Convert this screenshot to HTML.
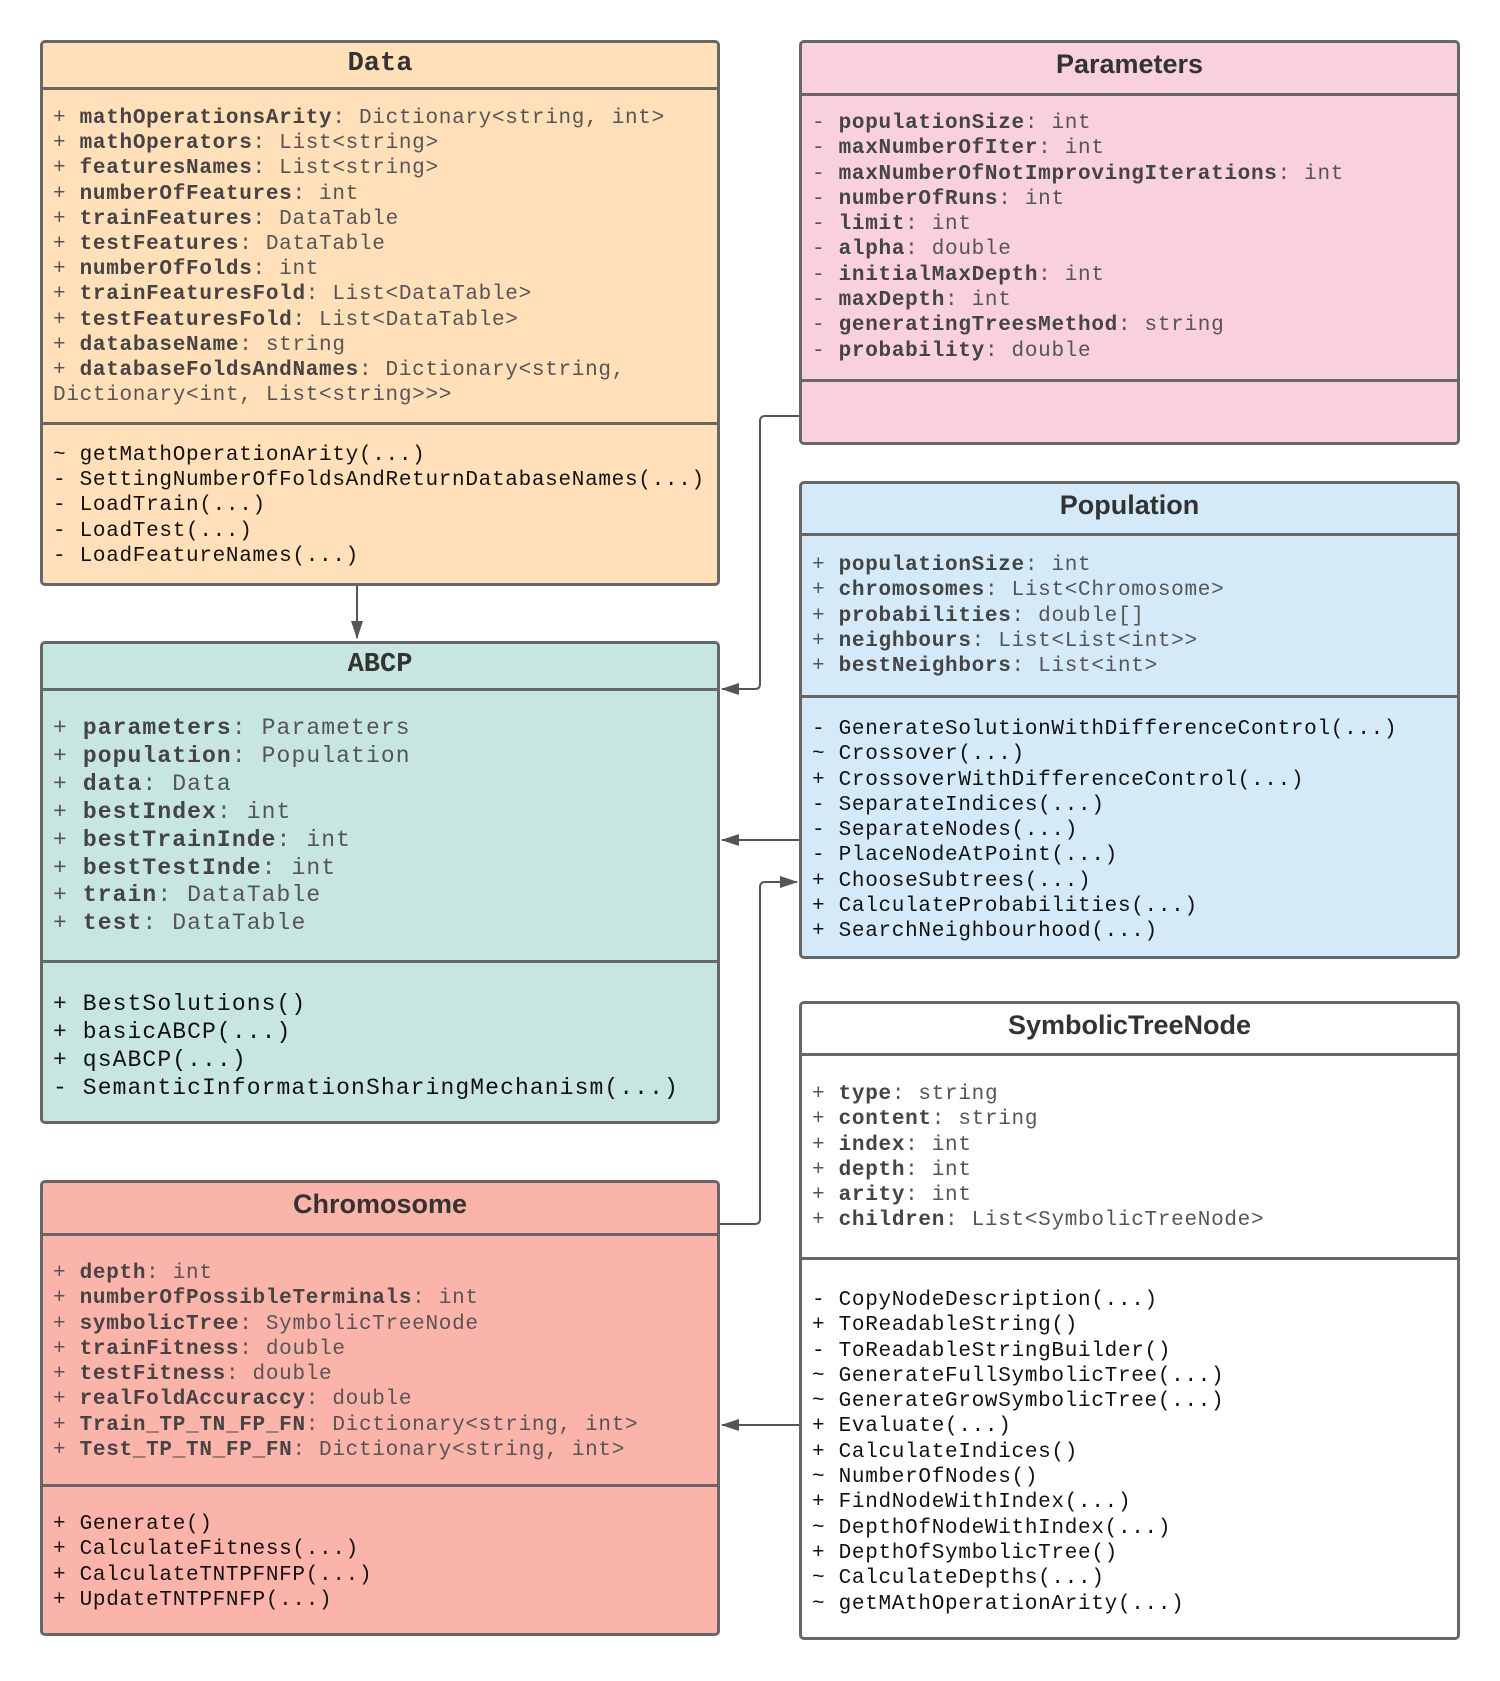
<!DOCTYPE html>
<html><head><meta charset="utf-8"><style>
body{margin:0;width:1500px;height:1681px;background:#fff;position:relative;overflow:hidden;font-family:"Liberation Mono",monospace;color:#111}
.box{position:absolute;border:3px solid #676767;border-radius:5px;box-sizing:border-box}
.hd{position:absolute;left:0;right:0;top:0;border-bottom:3px solid #676767;text-align:center;font:bold 27px "Liberation Sans",sans-serif;color:#333;box-sizing:border-box}
.hd.m{font-family:"Liberation Mono",monospace}
.dv{position:absolute;left:0;right:0;border-top:3px solid #676767}
.tx{position:absolute;left:10px;white-space:pre;font-size:21px;letter-spacing:0.7px}
.a{color:#555}.a b{color:#444}
.big{font-size:23px;letter-spacing:1.1px}
</style></head><body>

<svg width="1500" height="1681" style="position:absolute;left:0;top:0">
<defs><marker id="ar2" markerWidth="18" markerHeight="12" refX="17" refY="6" orient="auto" markerUnits="userSpaceOnUse"><path d="M0,0 L18,6 L0,12 z" fill="#555"/></marker></defs>
<g stroke="#555" stroke-width="2" fill="none">
<path d="M357 585 V638" marker-end="url(#ar2)"/>
<path d="M799 416 H765 q-5 0 -5 5 V684 q0 5 -5 5 H722" marker-end="url(#ar2)"/>
<path d="M799 840 H722" marker-end="url(#ar2)"/>
<path d="M719 1224 H755 q5 0 5 -5 V887 q0 -5 5 -5 H797" marker-end="url(#ar2)"/>
<path d="M799 1425 H722" marker-end="url(#ar2)"/>
</g></svg>

<!-- Data -->
<div class="box" style="left:40px;top:40px;width:680px;height:546px;background:#ffe0b9">
<div class="hd m" style="height:47px;line-height:42px">Data</div>
<div class="dv" style="top:379px"></div>
<div class="tx a" style="top:63px;line-height:25.2px"><span>+ <b>mathOperationsArity</b>: Dictionary&lt;string, int&gt;
+ <b>mathOperators</b>: List&lt;string&gt;
+ <b>featuresNames</b>: List&lt;string&gt;
+ <b>numberOfFeatures</b>: int
+ <b>trainFeatures</b>: DataTable
+ <b>testFeatures</b>: DataTable
+ <b>numberOfFolds</b>: int
+ <b>trainFeaturesFold</b>: List&lt;DataTable&gt;
+ <b>testFeaturesFold</b>: List&lt;DataTable&gt;
+ <b>databaseName</b>: string
+ <b>databaseFoldsAndNames</b>: Dictionary&lt;string,
Dictionary&lt;int, List&lt;string&gt;&gt;&gt;</span></div>
<div class="tx" style="top:400px;line-height:25.2px">~ getMathOperationArity(...)
- SettingNumberOfFoldsAndReturnDatabaseNames(...)
- LoadTrain(...)
- LoadTest(...)
- LoadFeatureNames(...)</div>
</div>

<!-- Parameters -->
<div class="box" style="left:799px;top:40px;width:661px;height:405px;background:#f8d1dc">
<div class="hd" style="height:53px;line-height:42px">Parameters</div>
<div class="dv" style="top:336px"></div>
<div class="tx a" style="top:68px;line-height:25.3px">- <b>populationSize</b>: int
- <b>maxNumberOfIter</b>: int
- <b>maxNumberOfNotImprovingIterations</b>: int
- <b>numberOfRuns</b>: int
- <b>limit</b>: int
- <b>alpha</b>: double
- <b>initialMaxDepth</b>: int
- <b>maxDepth</b>: int
- <b>generatingTreesMethod</b>: string
- <b>probability</b>: double</div>
</div>

<!-- ABCP -->
<div class="box" style="left:40px;top:641px;width:680px;height:483px;background:#c8e6e0">
<div class="hd m" style="height:47px;line-height:42px">ABCP</div>
<div class="dv" style="top:316px"></div>
<div class="tx a big" style="top:71px;line-height:27.9px">+ <b>parameters</b>: Parameters
+ <b>population</b>: Population
+ <b>data</b>: Data
+ <b>bestIndex</b>: int
+ <b>bestTrainInde</b>: int
+ <b>bestTestInde</b>: int
+ <b>train</b>: DataTable
+ <b>test</b>: DataTable</div>
<div class="tx big" style="top:347px;line-height:27.9px">+ BestSolutions()
+ basicABCP(...)
+ qsABCP(...)
- SemanticInformationSharingMechanism(...)</div>
</div>

<!-- Population -->
<div class="box" style="left:799px;top:481px;width:661px;height:478px;background:#d4eaf8">
<div class="hd" style="height:52px;line-height:42px">Population</div>
<div class="dv" style="top:211px"></div>
<div class="tx a" style="top:69px;line-height:25.3px">+ <b>populationSize</b>: int
+ <b>chromosomes</b>: List&lt;Chromosome&gt;
+ <b>probabilities</b>: double[]
+ <b>neighbours</b>: List&lt;List&lt;int&gt;&gt;
+ <b>bestNeighbors</b>: List&lt;int&gt;</div>
<div class="tx" style="top:233px;line-height:25.3px">- GenerateSolutionWithDifferenceControl(...)
~ Crossover(...)
+ CrossoverWithDifferenceControl(...)
- SeparateIndices(...)
- SeparateNodes(...)
- PlaceNodeAtPoint(...)
+ ChooseSubtrees(...)
+ CalculateProbabilities(...)
+ SearchNeighbourhood(...)</div>
</div>

<!-- SymbolicTreeNode -->
<div class="box" style="left:799px;top:1001px;width:661px;height:639px;background:#fff">
<div class="hd" style="height:52px;line-height:42px">SymbolicTreeNode</div>
<div class="dv" style="top:253px"></div>
<div class="tx a" style="top:78px;line-height:25.3px">+ <b>type</b>: string
+ <b>content</b>: string
+ <b>index</b>: int
+ <b>depth</b>: int
+ <b>arity</b>: int
+ <b>children</b>: List&lt;SymbolicTreeNode&gt;</div>
<div class="tx" style="top:284px;line-height:25.3px">- CopyNodeDescription(...)
+ ToReadableString()
- ToReadableStringBuilder()
~ GenerateFullSymbolicTree(...)
~ GenerateGrowSymbolicTree(...)
+ Evaluate(...)
+ CalculateIndices()
~ NumberOfNodes()
+ FindNodeWithIndex(...)
~ DepthOfNodeWithIndex(...)
+ DepthOfSymbolicTree()
~ CalculateDepths(...)
~ getMAthOperationArity(...)</div>
</div>

<!-- Chromosome -->
<div class="box" style="left:40px;top:1180px;width:680px;height:456px;background:#fbb4aa">
<div class="hd" style="height:53px;line-height:42px">Chromosome</div>
<div class="dv" style="top:301px"></div>
<div class="tx a" style="top:78px;line-height:25.3px">+ <b>depth</b>: int
+ <b>numberOfPossibleTerminals</b>: int
+ <b>symbolicTree</b>: SymbolicTreeNode
+ <b>trainFitness</b>: double
+ <b>testFitness</b>: double
+ <b>realFoldAccuraccy</b>: double
+ <b>Train_TP_TN_FP_FN</b>: Dictionary&lt;string, int&gt;
+ <b>Test_TP_TN_FP_FN</b>: Dictionary&lt;string, int&gt;</div>
<div class="tx" style="top:329px;line-height:25.3px">+ Generate()
+ CalculateFitness(...)
+ CalculateTNTPFNFP(...)
+ UpdateTNTPFNFP(...)</div>
</div>

</body></html>
